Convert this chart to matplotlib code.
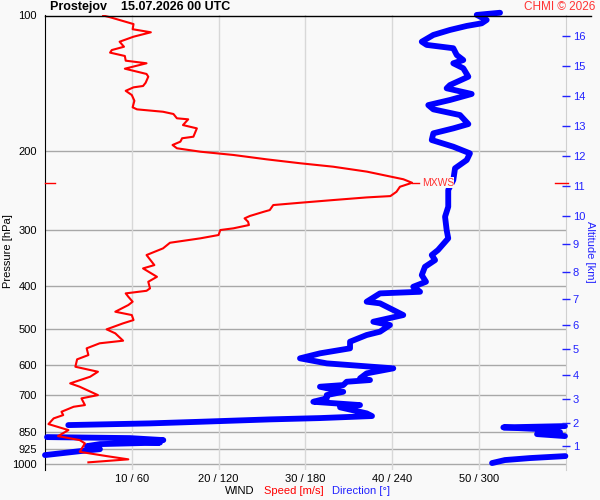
import matplotlib
matplotlib.use("Agg")
import matplotlib.pyplot as plt
from matplotlib.lines import Line2D
import numpy as np

plt.rcParams['font.family'] = ['Liberation Sans', 'DejaVu Sans']

# wind speed profile (pressure hPa, speed m/s)
speed_p = [100.0, 100.9, 104.5, 107.3, 109.0, 111.5, 114.4, 117.4, 119.4, 121.0,
           123.1, 126.1, 127.8, 131.4, 135.0, 136.9, 141.2, 143.6, 144.6, 147.2,
           150.4, 154.9, 160.2, 161.9, 163.9, 165.8, 169.5, 170.4, 175.5, 178.5,
           186.3, 187.8, 191.1, 194.4, 197.7, 201.2, 204.6, 209.2, 213.5, 217.3,
           222.9, 231.8, 236.0, 240.9, 247.2, 252.7, 254.4, 257.9, 261.5, 264.6,
           271.5, 273.9, 279.9, 283.3, 288.3, 293.2, 298.2, 300.8, 308.6, 313.9,
           321.1, 330.5, 342.0, 360.1, 366.3, 382.4, 392.3, 405.8, 410.9, 416.4,
           423.6, 434.6, 442.1, 457.5, 465.4, 477.5, 485.6, 500.8, 511.2, 530.9,
           538.0, 552.1, 571.5, 584.2, 606.8, 622.6, 638.8, 660.9, 672.4, 701.9,
           713.8, 738.8, 745.2, 764.6, 777.7, 791.0, 814.5, 840.0, 866.3, 884.3,
           899.4, 939.1, 960.0, 976.1, 991.3]
speed_ms = [6.7, 7.5, 10.2, 10.1, 12.2, 10.2, 8.6, 9.1, 7.7, 7.5,
            9.2, 9.3, 11.7, 9.2, 11.7, 11.9, 11.6, 11.3, 10.2, 9.3,
            10.0, 10.3, 10.1, 10.6, 13.6, 14.8, 15.2, 16.5, 15.9, 17.5,
            17.1, 15.8, 15.6, 14.7, 15.2, 17.9, 21.7, 25.5, 29.4, 33.2,
            37.1, 41.3, 42.3, 40.9, 40.5, 39.8, 37.1, 33.2, 29.4, 26.3,
            25.9, 25.2, 23.6, 23.0, 23.4, 23.5, 21.7, 20.2, 20.0, 17.9,
            14.4, 13.6, 11.7, 12.6, 11.3, 12.9, 11.9, 12.1, 11.7, 9.3,
            9.6, 10.1, 9.6, 8.1, 10.0, 10.2, 9.0, 7.1, 8.1, 9.0,
            6.3, 4.8, 5.0, 3.7, 3.5, 6.1, 5.2, 2.9, 4.0, 6.1,
            4.2, 4.6, 3.3, 1.9, 2.1, 1.0, 0.4, 2.7, 1.5, 4.0,
            4.6, 4.0, 7.1, 9.6, 5.0]

# wind direction profile (pressure hPa, direction deg)
dir_p = [98.6, 99.7, 102.3, 104.1, 105.5, 107.7, 110.5, 114.4, 116.3, 118.3,
         122.5, 125.7, 127.8, 131.1, 136.9, 142.9, 145.3, 149.6, 154.3, 158.4,
         161.9, 166.7, 174.6, 178.5, 183.1, 189.5, 196.1, 202.9, 210.0, 219.1,
         232.7, 244.9, 266.9, 280.9, 300.8, 313.9, 333.4, 342.0, 351.0, 363.3,
         379.1, 392.3, 402.5, 413.0, 416.4, 434.6, 438.2, 453.5, 465.4, 481.6,
         489.9, 506.9, 515.6, 533.6, 552.1, 566.5, 581.2, 596.4, 611.8, 627.8,
         644.1, 649.7, 655.4, 666.7, 672.4, 690.0, 701.9, 713.8, 726.4, 738.8,
         747.3, 770.9, 781.6, 789.8, 795.1, 804.9, 811.6, 818.7,
         823.0, 828.5, 835.8, 848.8, 857.5, 866.3,
         870.8, 875.3, 884.3, 891.1, 895.7, 902.7, 912.1, 926.3, 935.9, 955.0,
         960.0, 969.8, 979.7, 994.9]
dir_deg = [314.6, 298.5, 305.4, 301.9, 291.6, 280.0, 268.5, 260.5, 263.9, 282.3,
           284.7, 289.2, 282.3, 289.2, 292.7, 280.0, 277.7, 295.0, 280.0, 265.0,
           268.5, 286.9, 292.7, 282.3, 268.5, 267.4, 282.3, 293.8, 291.6, 283.5,
           282.3, 278.8, 278.8, 276.6, 277.7, 278.8, 271.7, 267.4, 269.7, 262.7,
           260.5, 263.4, 254.6, 259.3, 231.6, 222.4, 231.6, 240.8, 247.7, 227.0,
           238.5, 231.6, 222.4, 210.9, 210.9, 190.1, 176.3, 194.8, 240.8, 222.4,
           217.8, 224.7, 208.6, 206.2, 190.1, 206.2, 194.8, 194.8, 185.5, 217.8,
           204.0, 222.4, 226.1, 190.1, 155.6, 107.2, 72.6, 16.1,
           359.5, 316.9, 342.2, 356.1, 340.2, 359.5,
           1.4, 58.8, 81.8, 58.8, 79.5, 38.0, 29.0, 38.0, 24.2, 0.0,
           359.8, 335.3, 318.0, 309.1]

pressure_ticks = [100, 200, 300, 400, 500, 600, 700, 850, 925, 1000]
speed_ticks = [10, 20, 30, 40, 50]
tick_labels = ['10 / 60', '20 / 120', '30 / 180', '40 / 240', '50 / 300']
alt_km = [1, 2, 3, 4, 5, 6, 7, 8, 9, 10, 11, 12, 13, 14, 15, 16]
alt_p = [912, 811.6, 717.3, 632.3, 555, 490.7, 428.7, 373.8, 323.6, 279.5,
         239.6, 205.4, 176.6, 151.4, 129.8, 111.1]
mxws_p = 236.0
mxws_speed = 42.3

bg = '#f9f9f9'
fig = plt.figure(figsize=(6, 5), dpi=100, facecolor=bg)
ax = fig.add_axes([0.075, 0.06, 0.8678, 0.909], facecolor=bg)

ax.set_yscale('log')
ax.set_ylim(1031, 100)
ax.set_xlim(0, 60)

# direction line, broken where it wraps through north
d = np.array(dir_deg) / 6.0
p = np.array(dir_p, dtype=float)
cut = np.where(np.abs(np.diff(d)) > 30)[0] + 1
d = np.insert(d, cut, np.nan)
p = np.insert(p, cut, np.nan)
ax.plot(d, p, color='#0000ff', lw=4.2, solid_capstyle='round',
        solid_joinstyle='round', zorder=3, clip_on=False)

ax.plot(speed_ms, speed_p, color='#ff0000', lw=1.5, zorder=4)

# max wind marker
ax.plot([mxws_speed, mxws_speed + 0.8], [mxws_p, mxws_p], color='#ff0000', lw=1, zorder=4)
ax.text(mxws_speed + 1.1, mxws_p, 'MXWS', color='#ff3333', fontsize=7.5,
        va='center', ha='left', zorder=5,
        bbox=dict(facecolor=bg, edgecolor='none', pad=0.3))
ax.plot([0, 1.2], [mxws_p, mxws_p], color='#ff0000', lw=1, zorder=5, clip_on=False)
ax.plot([58.8, 60.3], [mxws_p, mxws_p], color='#ff0000', lw=1, zorder=5, clip_on=False)

# grid
for pr in pressure_ticks[1:]:
    ax.axhline(pr, color='#a8a8a8', lw=1, zorder=1)
for s in speed_ticks:
    ax.axvline(s, color='#d8d8d8', lw=1, zorder=1)

ax.set_yticks(pressure_ticks)
ax.set_yticklabels([str(v) for v in pressure_ticks])
ax.yaxis.set_minor_locator(plt.NullLocator())
ax.tick_params(axis='y', length=0, pad=6, labelsize=8)
ax.set_xticks(speed_ticks)
ax.set_xticklabels(tick_labels)
ax.tick_params(axis='x', length=0, pad=3, labelsize=8)

for side in ['top', 'bottom']:
    ax.spines[side].set_visible(False)
ax.spines['left'].set_color('black')
ax.spines['right'].set_color('#d0d0d0')

# altitude axis on the right
ax2 = ax.twinx()
ax2.set_yscale('log')
ax2.set_ylim(1031, 100)
ax2.set_yticks(alt_p)
ax2.set_yticklabels([str(v) for v in alt_km])
ax2.yaxis.set_minor_locator(plt.NullLocator())
ax2.tick_params(axis='y', direction='inout', length=6, width=1, colors='#2222ff',
                labelsize=8, pad=2)
for side in ['top', 'bottom', 'left', 'right']:
    ax2.spines[side].set_visible(False)

# top border line
fig.add_artist(Line2D([0.075, 0.985], [0.969, 0.969], color='black', lw=1))

fig.text(8 / 600, 1 - 251 / 500, 'Pressure [hPa]', fontsize=8, rotation=90,
         ha='center', va='center')
fig.text(590 / 600, 1 - 252 / 500, 'Altitude [km]', fontsize=8, rotation=-90,
         color='#2222ff', ha='center', va='center')

fig.text(50 / 600, 1 - 7 / 500, 'Prostejov    15.07.2026 00 UTC', fontsize=9,
         fontweight='bold', ha='left', va='center')
fig.text(595 / 600, 1 - 7 / 500, 'CHMI \u00a9 2026', fontsize=8.5, color='#ff3333',
         ha='right', va='center')

fig.text(225 / 600, 1 - 491 / 500, 'WIND', fontsize=8, ha='left', va='center')
fig.text(264 / 600, 1 - 491 / 500, 'Speed [m/s]', fontsize=8, color='#ff0000',
         ha='left', va='center')
fig.text(332 / 600, 1 - 491 / 500, 'Direction [\u00b0]', fontsize=8, color='#2222ff',
         ha='left', va='center')

fig.savefig('out.png', dpi=100, facecolor=bg)
